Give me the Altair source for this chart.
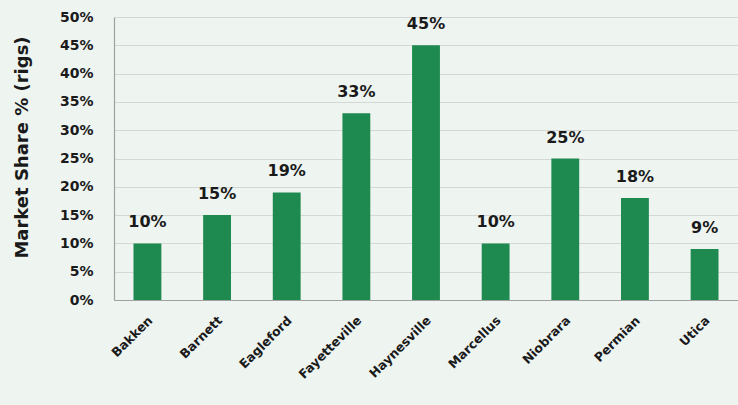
import altair as alt
import pandas as pd

# Rig market share by shale play
plays = ["Bakken", "Barnett", "Eagleford", "Fayetteville", "Haynesville",
         "Marcellus", "Niobrara", "Permian", "Utica"]
share = [0.10, 0.15, 0.19, 0.33, 0.45, 0.10, 0.25, 0.18, 0.09]

df = pd.DataFrame({"play": plays, "share": share})

FONT = "DejaVu Sans"
GREEN = "#1e8a50"
TEXT = "#1a1a1a"

base = alt.Chart(df).encode(
    x=alt.X(
        "play:N",
        sort=plays,
        scale=alt.Scale(paddingInner=0.6, paddingOuter=0.28),
        axis=alt.Axis(
            title=None,
            labelAngle=-45,
            labelAlign="right",
            labelBaseline="middle",
            labelFont=FONT,
            labelFontWeight="bold",
            labelFontSize=12.5,
            labelColor=TEXT,
            labelPadding=18,
            labelOffset=3,
            ticks=False,
            domainColor="#a0a0a0",
            domainWidth=1.2,
        ),
    ),
    y=alt.Y(
        "share:Q",
        scale=alt.Scale(domain=[0, 0.5]),
        axis=alt.Axis(
            title="Market Share % (rigs)",
            format=".0%",
            values=[0, 0.05, 0.1, 0.15, 0.2, 0.25, 0.3, 0.35, 0.4, 0.45, 0.5],
            labelFont=FONT,
            labelFontWeight="bold",
            labelFontSize=14,
            labelColor=TEXT,
            labelPadding=21,
            ticks=False,
            domainColor="#a0a0a0",
            domainWidth=1.2,
            gridColor="#d4d8d4",
            titleFont=FONT,
            titleFontWeight="bold",
            titleFontSize=18,
            titleColor=TEXT,
            titlePadding=28,
            titleY=130,
        ),
    ),
)

bars = base.mark_bar(color=GREEN)

labels = base.mark_text(
    dy=-13,
    baseline="bottom",
    font=FONT,
    fontWeight="bold",
    fontSize=16,
    color=TEXT,
).encode(text=alt.Text("share:Q", format=".0%"))

chart = (
    (bars + labels)
    .properties(
        width=624,
        height=283,
        background="#eef4f0",
        padding={"left": 114, "top": 17, "right": 0, "bottom": 105},
        autosize=alt.AutoSizeParams(type="none"),
    )
    .configure_view(stroke=None)
)

chart.save("out.html", embed_options={"renderer": "svg", "actions": False})
